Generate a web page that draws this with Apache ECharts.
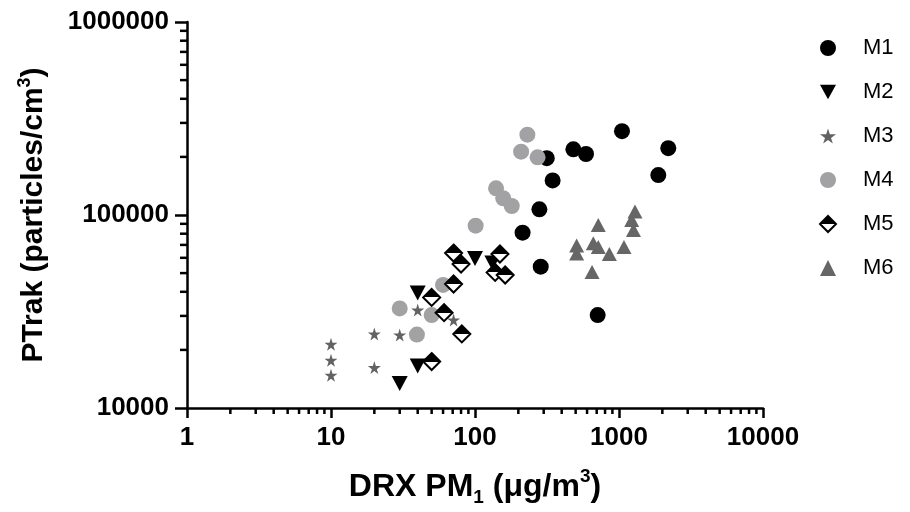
<!DOCTYPE html>
<html>
<head>
<meta charset="utf-8">
<script src="https://cdn.jsdelivr.net/npm/echarts@6/dist/echarts.min.js"></script>
<style>
html,body{margin:0;padding:0;background:#fff;}
#c{width:910px;height:512px;}
</style>
</head>
<body>
<div id="c"></div>
<script>
const seriesNames = ['M1','M2','M3','M4','M5','M6'];
const m1X = [315, 346, 280, 214, 482, 590, 1049, 2199, 1875, 286, 711];
const m1Y = [197000, 151000, 107000, 81000, 219000, 207000, 272000, 222000, 161000, 54000, 30300];
const m2X = [40, 100, 132, 40, 30];
const m2Y = [39400, 59500, 56400, 16500, 13400];
const m3X = [10, 10, 10, 20, 30, 20, 40, 71];
const m3Y = [21400, 17700, 14800, 24200, 23900, 16200, 32200, 28600];
const m4X = [231, 209, 272, 140, 157, 180, 101, 60, 30, 50, 39.5];
const m4Y = [260600, 212800, 199000, 137500, 122100, 111300, 88000, 43400, 32800, 30300, 24000];
const m5X = [71, 80, 149, 138, 162, 71, 50, 61, 81, 50];
const m5Y = [63500, 55700, 62800, 50400, 48900, 43900, 37400, 31200, 24200, 17400];
const m6X = [508, 508, 718, 663, 718, 857, 1083, 1225, 1291, 1260, 650];
const m6Y = [69500, 63100, 88700, 71300, 68300, 62800, 68300, 94200, 104200, 83600, 50700];

const xMin = 1, xMax = 10000;
const yMin = 10000, yMax = 1000000;
const xMinorTicks = [2,3,4,5,6,7,8,9,20,30,40,50,60,70,80,90,200,300,400,500,600,700,800,900,2000,3000,4000,5000,6000,7000,8000,9000];
const yMinorTicks = [20000,30000,40000,50000,60000,70000,80000,90000,200000,300000,400000,500000,600000,700000,800000,900000];

const FONT = 'Liberation Sans, Arial, sans-serif';
const pair = (xs, ys) => xs.map((x, i) => [x, ys[i]]);

const starPath = 'path://M50,0 L61,35 L98,35 L68,57 L79,91 L50,70 L21,91 L32,57 L2,35 L39,35 Z';
const downTri = 'path://M0,0 L10,0 L5,9 Z';
const halfDiamondFill = new echarts.graphic.LinearGradient(0, 0, 0, 1, [
  {offset: 0, color: '#000'}, {offset: 0.5, color: '#000'},
  {offset: 0.5, color: '#fff'}, {offset: 1, color: '#fff'}
]);

const chart = echarts.init(document.getElementById('c'), null, {renderer: 'canvas'});

const option = {
  animation: false,
  backgroundColor: '#fff',
  grid: {left: 187, right: 147, top: 22, bottom: 104},
  legend: {
    data: seriesNames,
    orient: 'vertical',
    left: 814,
    top: 32,
    itemWidth: 16,
    itemHeight: 16,
    itemGap: 22,
    textStyle: {fontFamily: FONT, fontSize: 22, color: '#000', padding: [0, 0, 0, 22]}
  },
  xAxis: {
    type: 'log', logBase: 10, min: xMin, max: xMax,
    name: '{a|DRX PM}{s|1}{a| (μg/m}{p|3}{a|)}',
    nameLocation: 'middle', nameGap: 59,
    nameTextStyle: {
      rich: {
        a: {fontFamily: FONT, fontSize: 32, fontWeight: 'bold', color: '#000', lineHeight: 40, verticalAlign: 'middle'},
        s: {fontFamily: FONT, fontSize: 19, fontWeight: 'bold', color: '#000', verticalAlign: 'bottom', lineHeight: 40},
        p: {fontFamily: FONT, fontSize: 19, fontWeight: 'bold', color: '#000', verticalAlign: 'top', lineHeight: 36}
      }
    },
    axisLine: {onZero: false, lineStyle: {color: '#000', width: 2.5}},
    axisTick: {length: 10, lineStyle: {color: '#000', width: 2.5}},
    splitLine: {show: false},
    axisLabel: {fontFamily: FONT, fontSize: 26, fontWeight: 'bold', color: '#000', margin: 17,
      formatter: v => String(Math.round(v))}
  },
  yAxis: {
    type: 'log', logBase: 10, min: yMin, max: yMax,
    name: '{a|PTrak (particles/cm}{p|3}{a|)}',
    nameLocation: 'middle', nameGap: 135, nameRotate: 90,
    nameTextStyle: {
      rich: {
        a: {fontFamily: FONT, fontSize: 30, fontWeight: 'bold', color: '#000', lineHeight: 36, verticalAlign: 'middle'},
        p: {fontFamily: FONT, fontSize: 18, fontWeight: 'bold', color: '#000', verticalAlign: 'top', lineHeight: 32}
      }
    },
    axisLine: {onZero: false, lineStyle: {color: '#000', width: 2.5}},
    axisTick: {length: 12, lineStyle: {color: '#000', width: 2.5}},
    splitLine: {show: false},
    axisLabel: {fontFamily: FONT, fontSize: 26, fontWeight: 'bold', color: '#000', margin: 18,
      formatter: v => String(Math.round(v))}
  },
  series: [
    {name: 'M1', type: 'scatter', data: pair(m1X, m1Y), symbol: 'circle', symbolSize: 16,
      itemStyle: {color: '#000', opacity: 1}},
    {name: 'M2', type: 'scatter', data: pair(m2X, m2Y), symbol: downTri, symbolSize: [16, 15],
      itemStyle: {color: '#000', opacity: 1}},
    {name: 'M3', type: 'scatter', data: pair(m3X, m3Y), symbol: starPath, symbolSize: 13,
      itemStyle: {color: '#626262', opacity: 1}},
    {name: 'M4', type: 'scatter', data: pair(m4X, m4Y), symbol: 'circle', symbolSize: 16,
      itemStyle: {color: '#a2a2a5', opacity: 1}},
    {name: 'M5', type: 'scatter', data: pair(m5X, m5Y), symbol: 'diamond', symbolSize: [17, 17],
      itemStyle: {color: halfDiamondFill, borderColor: '#000', borderWidth: 2, opacity: 1}},
    {name: 'M6', type: 'scatter', data: pair(m6X, m6Y), symbol: 'triangle', symbolSize: [15, 14],
      itemStyle: {color: '#666666', opacity: 1}},
    {name: 'xMinor', type: 'custom', silent: true, clip: false, z: 5,
      data: xMinorTicks.map(v => [v, yMin]),
      encode: {x: 0, y: 1},
      renderItem: (params, api) => {
        const p = api.coord([api.value(0), api.value(1)]);
        return {type: 'line', shape: {x1: p[0], y1: p[1], x2: p[0], y2: p[1] + 6},
          style: {stroke: '#000', lineWidth: 2.5}};
      }},
    {name: 'yMinor', type: 'custom', silent: true, clip: false, z: 5,
      data: yMinorTicks.map(v => [xMin, v]),
      encode: {x: 0, y: 1},
      renderItem: (params, api) => {
        const p = api.coord([api.value(0), api.value(1)]);
        return {type: 'line', shape: {x1: p[0] - 7, y1: p[1], x2: p[0], y2: p[1]},
          style: {stroke: '#000', lineWidth: 2.5}};
      }}
  ]
};
chart.setOption(option);
</script>
</body>
</html>
